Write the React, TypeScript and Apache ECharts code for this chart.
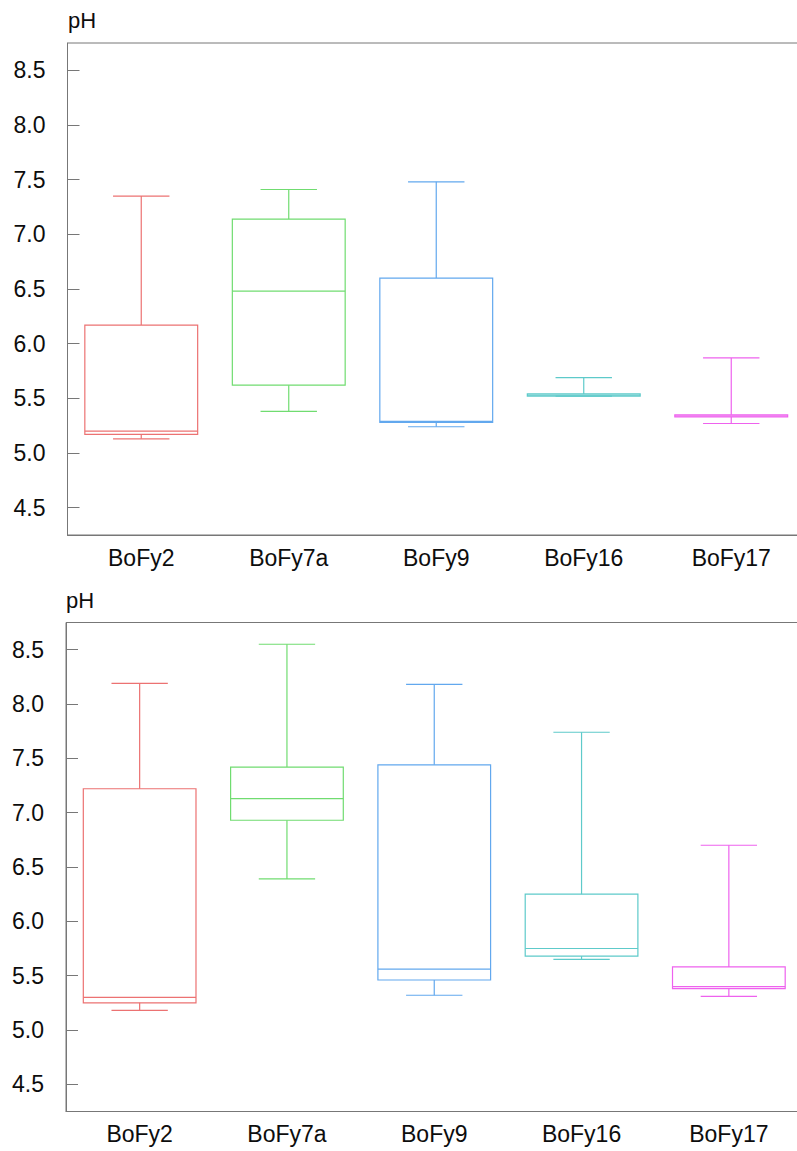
import React, { useEffect, useRef } from "react";
import * as echarts from "echarts";

// Sampling sites along the x axis
const categories = ["BoFy2", "BoFy7a", "BoFy9", "BoFy16", "BoFy17"];
// Outline colour for each site's box
const siteColors = ["#ec7272", "#70dc70", "#62a8ee", "#5ecaca", "#ee62ee"];

// Box statistics per site: [min, Q1, median, Q3, max]
const upperStats = [
  [5.13, 5.17, 5.2, 6.17, 7.35],
  [5.38, 5.62, 6.48, 7.14, 7.41],
  [5.24, 5.28, 5.29, 6.6, 7.48],
  [5.52, 5.52, 5.53, 5.54, 5.69],
  [5.27, 5.33, 5.34, 5.35, 5.87],
];
const lowerStats = [
  [5.18, 5.25, 5.3, 7.22, 8.19],
  [6.39, 6.93, 7.13, 7.42, 8.55],
  [5.32, 5.46, 5.56, 7.44, 8.18],
  [5.65, 5.68, 5.75, 6.25, 7.74],
  [5.31, 5.38, 5.4, 5.58, 6.7],
];

// pH axis range and step
const phMin = 4.25;
const phMax = 8.75;
const phStep = 0.5;

const axisGray = "#777777";
const textColor = "#0d0d0d";
const fontFamily = "'Liberation Sans', Arial, sans-serif";

function renderBox(_params: any, api: any) {
  const idx = api.value(0);
  const mn = api.value(1);
  const q1 = api.value(2);
  const md = api.value(3);
  const q3 = api.value(4);
  const mx = api.value(5);
  const band = api.size([1, 0])[0];
  const boxW = band * 0.765;
  const capW = boxW / 2;
  const cx = api.coord([idx, mn])[0];
  const y = (v: number) => api.coord([idx, v])[1];
  const style = { stroke: siteColors[idx], lineWidth: 1.2, fill: "none" };
  const hline = (v: number, w: number) => ({
    type: "line",
    shape: { x1: cx - w / 2, y1: y(v), x2: cx + w / 2, y2: y(v) },
    style,
  });
  return {
    type: "group",
    children: [
      { type: "line", shape: { x1: cx, y1: y(q3), x2: cx, y2: y(mx) }, style },
      { type: "line", shape: { x1: cx, y1: y(q1), x2: cx, y2: y(mn) }, style },
      hline(mx, capW),
      hline(mn, capW),
      {
        type: "rect",
        shape: { x: cx - boxW / 2, y: y(q3), width: boxW, height: y(q1) - y(q3) },
        style,
      },
      hline(md, boxW),
    ],
  };
}

function makeXAxis(gridIndex: number) {
  return {
    type: "category",
    gridIndex,
    data: categories,
    boundaryGap: true,
    axisLine: { lineStyle: { color: axisGray, width: 1 } },
    axisTick: {
      inside: true,
      length: 12,
      alignWithLabel: true,
      lineStyle: { color: axisGray },
    },
    axisLabel: { fontSize: 23, color: textColor, fontFamily, margin: 11 },
    splitLine: { show: false },
  };
}

function makeYAxis(gridIndex: number) {
  return {
    type: "value",
    gridIndex,
    min: phMin,
    max: phMax,
    splitNumber: 9,
    minInterval: phStep,
    maxInterval: phStep,
    axisLine: { show: true, lineStyle: { color: axisGray, width: 1 } },
    axisTick: { show: true, inside: true, length: 12, lineStyle: { color: axisGray } },
    axisLabel: {
      fontSize: 23,
      color: textColor,
      fontFamily,
      margin: 22,
      showMinLabel: false,
      showMaxLabel: false,
      formatter: (v: number) => v.toFixed(1),
    },
    splitLine: { show: false },
  };
}

export default function App() {
  const ref = useRef<HTMLDivElement>(null);

  useEffect(() => {
    if (!ref.current) return;
    const chart = echarts.init(ref.current, undefined, { renderer: "svg" });
    chart.setOption({
      animation: false,
      backgroundColor: "#ffffff",
      grid: [
        {
          left: 67.5,
          top: 43,
          width: 737.5,
          height: 492,
          show: true,
          borderColor: axisGray,
          borderWidth: 1,
        },
        {
          left: 66,
          top: 622.5,
          width: 736.5,
          height: 489,
          show: true,
          borderColor: axisGray,
          borderWidth: 1,
        },
      ],
      xAxis: [makeXAxis(0), makeXAxis(1)],
      yAxis: [makeYAxis(0), makeYAxis(1)],
      graphic: [
        {
          type: "text",
          left: 68,
          top: 9,
          style: { text: "pH", fontSize: 22, fill: textColor, fontFamily },
        },
        {
          type: "text",
          left: 66,
          top: 589,
          style: { text: "pH", fontSize: 22, fill: textColor, fontFamily },
        },
      ],
      series: [
        {
          type: "custom",
          name: "upper",
          xAxisIndex: 0,
          yAxisIndex: 0,
          renderItem: renderBox,
          encode: { x: 0, y: [1, 2, 3, 4, 5] },
          data: upperStats.map((s, i) => [i, ...s]),
          clip: false,
        },
        {
          type: "custom",
          name: "lower",
          xAxisIndex: 1,
          yAxisIndex: 1,
          renderItem: renderBox,
          encode: { x: 0, y: [1, 2, 3, 4, 5] },
          data: lowerStats.map((s, i) => [i, ...s]),
          clip: false,
        },
      ],
    });
    return () => chart.dispose();
  }, []);

  return (
    <div
      style={{
        position: "absolute",
        left: 0,
        top: 0,
        width: 797,
        height: 1151,
        overflow: "hidden",
        background: "#fff",
      }}
    >
      <div ref={ref} style={{ width: 830, height: 1151 }} />
    </div>
  );
}
